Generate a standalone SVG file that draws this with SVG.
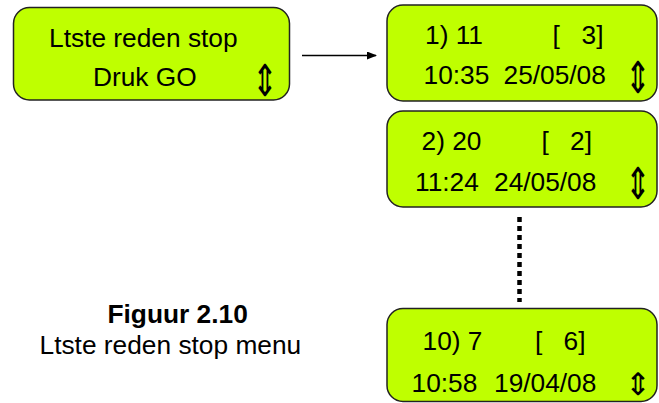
<svg xmlns="http://www.w3.org/2000/svg" width="659" height="403" viewBox="0 0 659 403">
<defs>
<style>
.box{fill:#BFFF00;stroke:#222;stroke-width:1.5}
.t{font-family:"Liberation Sans",Arial,sans-serif;font-size:26.3px;fill:#000}
.b{font-weight:bold}
.ar{font-family:"DejaVu Sans",sans-serif;font-weight:200;font-size:44px;fill:#000;text-anchor:middle}
</style>
<marker id="ah" markerWidth="10" markerHeight="8" refX="9" refY="4" orient="auto" markerUnits="userSpaceOnUse">
<path d="M0,0 L10,4 L0,8 z" fill="#000"/>
</marker>
</defs>
<rect width="659" height="403" fill="#fff"/>
<g id="connectors">
<line x1="302" y1="55.5" x2="376" y2="55.5" stroke="#000" stroke-width="1.5" marker-end="url(#ah)"/>
<line x1="519.5" y1="217" x2="519.5" y2="302" stroke="#000" stroke-width="4.5" stroke-dasharray="5 4"/>
</g>
<g id="start">
<rect class="box" x="13.5" y="7.5" width="276" height="92.5" rx="16"/>
<text class="t" x="49" y="47">Ltste reden stop</text>
<text class="t" x="93" y="86">Druk GO</text>
<text class="ar" transform="translate(264.7,95.5) scale(0.7,1)">⇕</text>
</g>
<g id="entry1">
<rect class="box" x="387" y="5" width="270" height="96" rx="16"/>
<text class="t" x="425" y="43.5">1) 11</text>
<text class="t" x="552.5" y="43.5">[</text>
<text class="t" x="581.5" y="43.5">3]</text>
<text class="t" x="423.5" y="83.5">10:35</text>
<text class="t" x="503.5" y="83.5">25/05/08</text>
<text class="ar" transform="translate(638,93) scale(0.7,1)">⇕</text>
</g>
<g id="entry2">
<rect class="box" x="387" y="111" width="270" height="96" rx="16"/>
<text class="t" x="421.5" y="150">2) 20</text>
<text class="t" x="541.5" y="150">[</text>
<text class="t" x="570" y="150">2]</text>
<text class="t" x="415" y="191">11:24</text>
<text class="t" x="494" y="191">24/05/08</text>
<text class="ar" transform="translate(638,198.5) scale(0.7,1)">⇕</text>
</g>
<g id="entry10">
<rect class="box" x="387" y="308.5" width="270" height="93" rx="16"/>
<text class="t" x="422.5" y="350">10) 7</text>
<text class="t" x="535" y="350">[</text>
<text class="t" x="563.5" y="350">6]</text>
<text class="t" x="411.5" y="391.5">10:58</text>
<text class="t" x="494" y="391.5">19/04/08</text>
<text class="ar" transform="translate(638,394.5) scale(0.7,0.7)">⇕</text>
</g>
<g id="caption">
<text class="t b" x="107.5" y="322.5">Figuur 2.10</text>
<text class="t" x="39.5" y="354">Ltste reden stop menu</text>
</g>
</svg>
